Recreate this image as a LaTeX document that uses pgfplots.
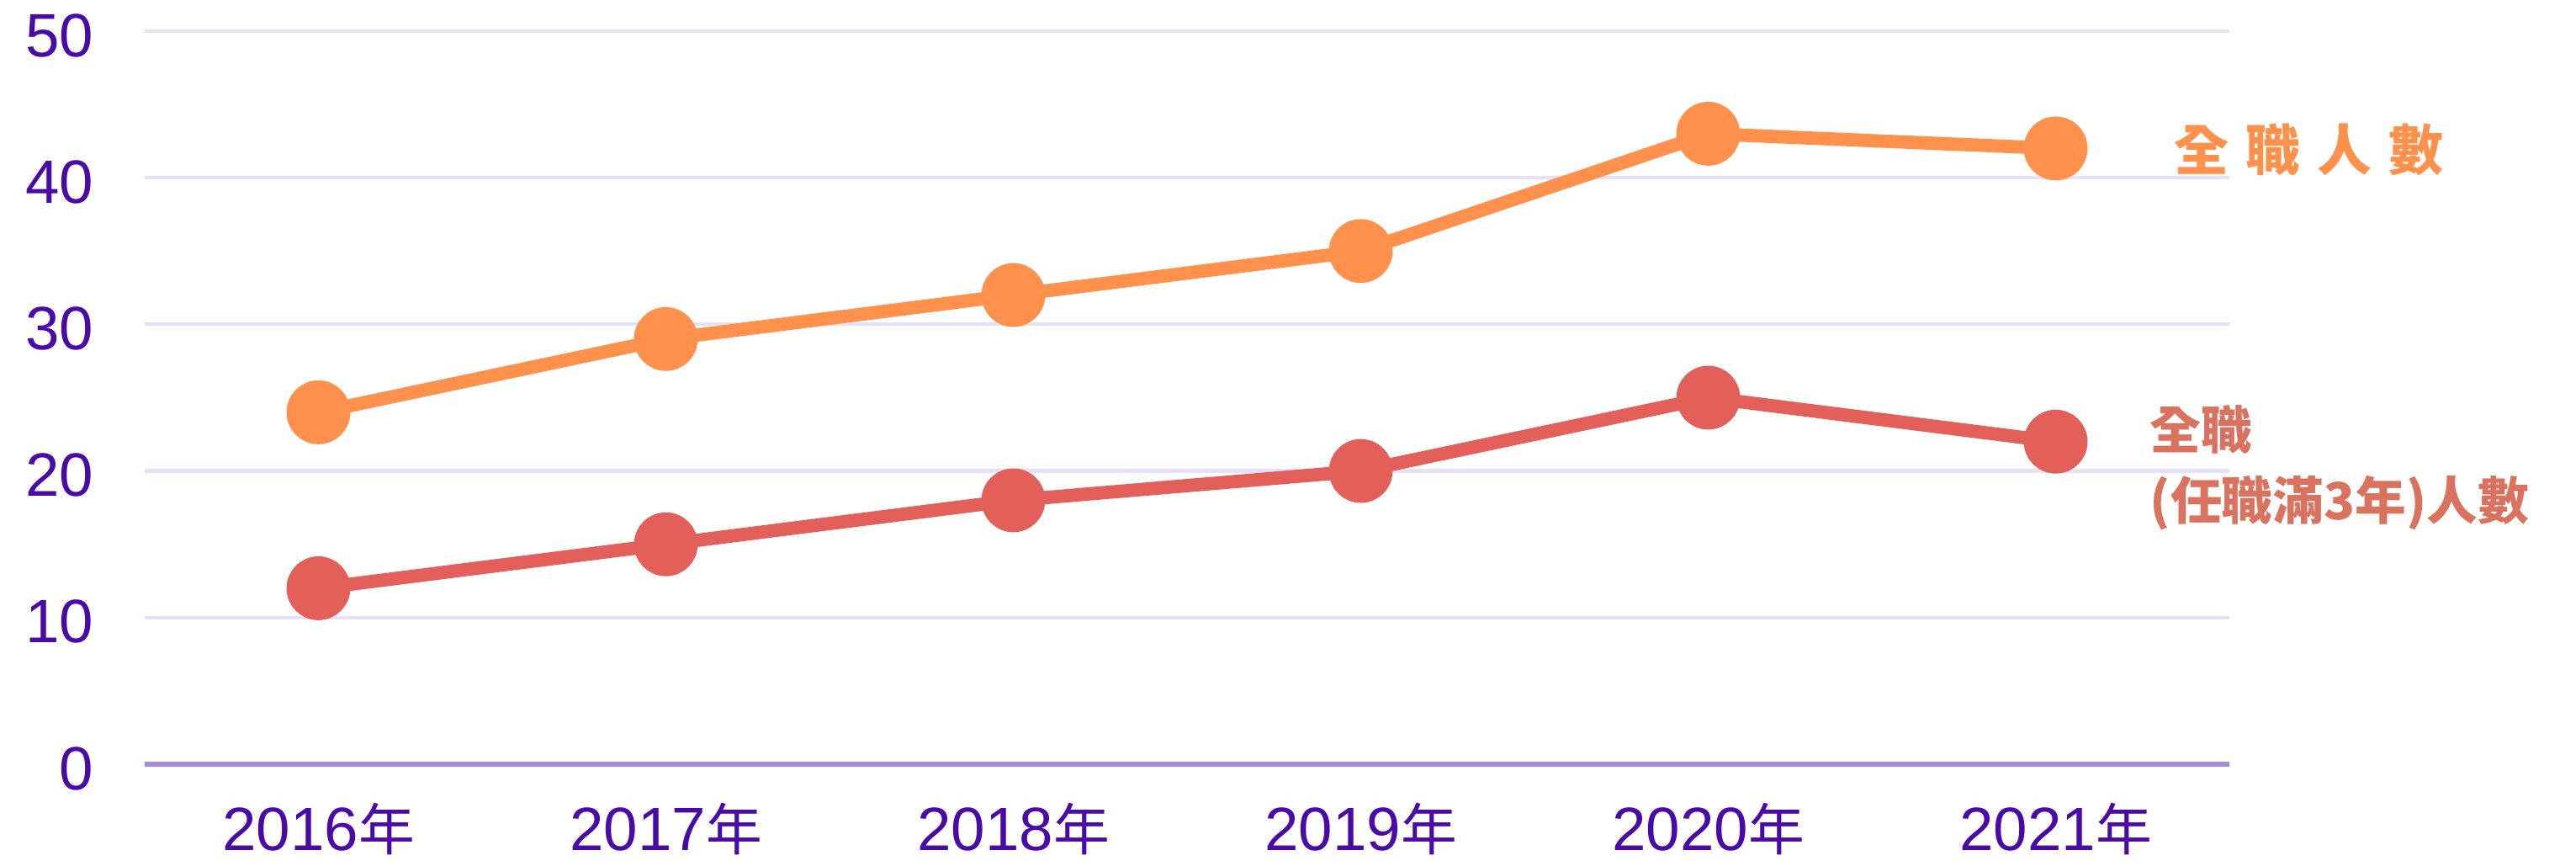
\documentclass[border=0pt]{standalone}
\usepackage{fontspec}
\setmainfont{Liberation Sans}
\newfontfamily\cjk{Noto Sans CJK TC}
\usepackage{graphicx}
\usepackage{pgfplots}
\pgfplotsset{compat=1.18}
\definecolor{tickpurple}{HTML}{4A0AA8}
\definecolor{gridlav}{HTML}{E8E0F6}
\definecolor{basepurple}{HTML}{A68BDD}
\definecolor{lineorange}{HTML}{FF914D}
\definecolor{linered}{HTML}{E35F5A}
\definecolor{labelred}{HTML}{D9735F}
\newcommand{\yr}[1]{#1{\cjk\fontsize{19}{22}\selectfont 年}}
\begin{document}
\begin{tikzpicture}
\path[use as bounding box] (0,0) rectangle (30.62cm,10.23cm);
\begin{axis}[
  at={(1.72cm,1.15cm)}, anchor=south west,
  scale only axis, width=24.78cm, height=8.71cm,
  xmin=-0.5, xmax=5.5, ymin=0, ymax=50,
  clip=false,
  axis line style={draw=none},
  ytick={0,10,20,30,40,50},
  xtick={0,1,2,3,4,5},
  xticklabels={\yr{2016},\yr{2017},\yr{2018},\yr{2019},\yr{2020},\yr{2021}},
  major tick length=0pt,
  ymajorgrids,
  grid style={gridlav, line width=1.2pt},
  /pgf/number format/assume math mode=true,
  yticklabel style={font=\fontsize{20.7}{24}\selectfont, text=tickpurple, anchor=east, inner sep=0pt, xshift=-0.6cm, yshift=-0.05cm},
  xticklabel style={font=\fontsize{20.7}{24}\selectfont, text=tickpurple, anchor=base, inner sep=0pt, yshift=-1.03cm},
]
\draw[basepurple, line width=1.5pt] (rel axis cs:0,0) -- (rel axis cs:1,0);
\addplot[lineorange, line width=4.5pt, mark=*, mark size=0.3cm, mark options={draw=none, fill=lineorange}]
  coordinates {(0,24) (1,29) (2,32) (3,35) (4,43) (5,42)};
\addplot[linered, line width=4.5pt, mark=*, mark size=0.3cm, mark options={draw=none, fill=linered}]
  coordinates {(0,12) (1,15) (2,18) (3,20) (4,25) (5,22)};
\node[anchor=west, inner sep=0pt, text=lineorange, font=\cjk\bfseries\fontsize{18.5}{22}\selectfont] at (axis cs:5.34,41.9) {全\hspace{0.2cm}職\hspace{0.2cm}人\hspace{0.2cm}數};
\node[anchor=west, inner sep=0pt, text=labelred, font=\cjk\bfseries\fontsize{17.3}{20}\selectfont] at (axis cs:5.27,22.8) {全職};
\node[anchor=west, inner sep=0pt, text=labelred, font=\cjk\bfseries\fontsize{17.3}{20}\selectfont] at (axis cs:5.27,17.8) {(任職滿3年)人數};
\end{axis}
\end{tikzpicture}
\end{document}
